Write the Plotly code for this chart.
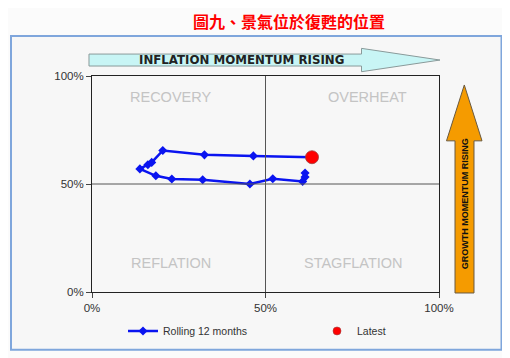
import plotly.graph_objects as go

# ---- data (percent) ----
roll_x = [61.4, 61.4, 60.7, 52.1, 45.5, 31.9, 23.0, 18.4, 13.8, 16.1, 17.2, 20.4, 32.4, 46.5, 63.4]
roll_y = [55.1, 53.2, 51.2, 52.4, 50.0, 52.0, 52.3, 53.8, 57.0, 58.9, 60.0, 65.5, 63.5, 63.0, 62.4]
latest_x = [63.4]
latest_y = [62.4]
tick_vals = [0, 50, 100]
tick_text = ["0%", "50%", "100%"]
quadrants = ["RECOVERY", "OVERHEAT", "REFLATION", "STAGFLATION"]
quad_pos = [(22.7, 90.5), (79.3, 90.5), (22.9, 13.5), (75.5, 13.5)]

# page body has an 8px margin; figure is drawn offset by (8, 8)
OFF = 8
W, H = 510 - OFF, 358 - OFF
L, R, T, B = 92, 439, 76, 292.5   # plot area in screen pixels

def px(x):
    return (x - L) / (R - L)

def py(y):
    return (B - y) / (B - T)

fig = go.Figure()

fig.add_trace(go.Scatter(
    x=roll_x, y=roll_y, mode="lines+markers", name="Rolling 12 months",
    line=dict(color="#0a14f0", width=2.5),
    marker=dict(symbol="diamond", size=7, color="#0a14f0"),
    legend="legend",
))
fig.add_trace(go.Scatter(
    x=latest_x, y=latest_y, mode="markers", name="Latest",
    marker=dict(symbol="circle", size=13, color="#ff0000",
                line=dict(color="#a04040", width=0.8)),
    showlegend=False,
))
# legend-only entry with the small legend dot
fig.add_trace(go.Scatter(
    x=[None], y=[None], mode="markers", name="Latest",
    marker=dict(symbol="circle", size=8, color="#ff0000",
                line=dict(color="#a04040", width=0.6)),
    legend="legend2",
))

shapes = []
# outer frame
shapes.append(dict(type="rect", xref="paper", yref="paper",
                   x0=px(11), x1=px(501.5), y0=py(350.5), y1=py(36),
                   line=dict(color="#7fa6dc", width=2), layer="below",
                   fillcolor="#f7f7f7"))
# quadrant dividers
shapes.append(dict(type="line", xref="x", yref="paper", x0=50, x1=50, y0=0, y1=1,
                   line=dict(color="#555555", width=1)))
shapes.append(dict(type="line", xref="paper", yref="y", x0=0, x1=1, y0=50, y1=50,
                   line=dict(color="#555555", width=1)))

# inflation arrow (horizontal)
pts = [(89, 54), (361.5, 54), (361.5, 48.3), (440, 60), (361.5, 71.7), (361.5, 66), (89, 66)]
path = "M " + " L ".join(f"{px(a):.5f},{py(b):.5f}" for a, b in pts) + " Z"
shapes.append(dict(type="path", xref="paper", yref="paper", path=path,
                   fillcolor="#c8f5f5", line=dict(color="#8a9a9a", width=1)))
# growth arrow (vertical)
pts = [(455, 293.5), (455, 141), (446.5, 141), (464.3, 85), (482, 141), (474, 141), (474, 293.5)]
path = "M " + " L ".join(f"{px(a):.5f},{py(b):.5f}" for a, b in pts) + " Z"
shapes.append(dict(type="path", xref="paper", yref="paper", path=path,
                   fillcolor="#f59b00", line=dict(color="#6a5a40", width=1)))

annotations = []
for txt, (qx, qy) in zip(quadrants, quad_pos):
    annotations.append(dict(x=qx, y=qy, xref="x", yref="y", text=txt, showarrow=False,
                            xanchor="center", yanchor="middle",
                            font=dict(family="Liberation Sans, Arial", size=14.5, color="#c4c4c4")))
annotations.append(dict(x=px(241.5), y=py(60), xref="paper", yref="paper",
                        text="<b>INFLATION MOMENTUM RISING</b>", showarrow=False,
                        xanchor="center", yanchor="middle",
                        font=dict(family="DejaVu Sans", size=11.8, color="#222222")))
annotations.append(dict(x=px(464.5), y=py(204), xref="paper", yref="paper",
                        text="<b>GROWTH MOMENTUM RISING</b>", showarrow=False, textangle=-90,
                        xanchor="center", yanchor="middle",
                        font=dict(family="Liberation Sans, Arial", size=9, color="#111111")))
annotations.append(dict(x=px(289), y=py(8), xref="paper", yref="paper",
                        text="<b>圖九、景氣位於復甦的位置</b>", showarrow=False,
                        xanchor="center", yanchor="top", borderpad=0,
                        font=dict(family="Noto Sans CJK TC", size=16, color="#ff0000")))

axis_common = dict(range=[0, 100], tickvals=tick_vals, ticktext=tick_text,
                   showgrid=False, zeroline=False, showline=True, mirror=True,
                   linecolor="#222222", linewidth=1, ticks="outside", ticklen=5,
                   tickcolor="#444444",
                   tickfont=dict(family="Liberation Sans, Arial", size=11.5, color="#333333"),
                   fixedrange=True, automargin=False)

legend_font = dict(family="Liberation Sans, Arial", size=10.5, color="#333333")

fig.update_layout(
    width=W, height=H, autosize=False,
    margin=dict(l=L - OFF, r=W - (R - OFF), t=T - OFF, b=H - (B - OFF), autoexpand=False),
    paper_bgcolor="#fbfbfb", plot_bgcolor="#f7f7f7",
    xaxis=dict(**axis_common),
    yaxis=dict(**axis_common),
    shapes=shapes, annotations=annotations,
    showlegend=True,
    legend=dict(orientation="h", x=px(123), y=py(317), xanchor="left", yanchor="top",
                bgcolor="rgba(0,0,0,0)", font=legend_font),
    legend2=dict(orientation="h", x=px(317), y=py(317), xanchor="left", yanchor="top",
                 bgcolor="rgba(0,0,0,0)", font=legend_font),
)

fig.write_html("out.html")
